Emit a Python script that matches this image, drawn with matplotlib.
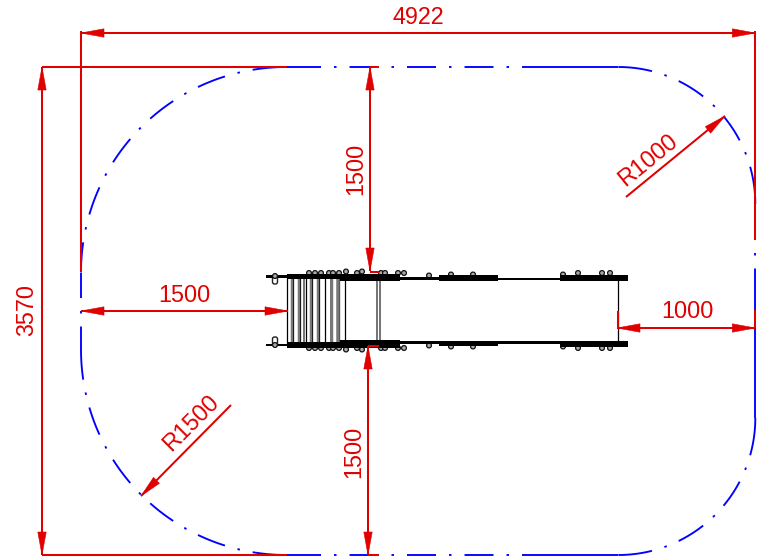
import numpy as np
import matplotlib
matplotlib.use("Agg")
import matplotlib.pyplot as plt
from matplotlib.patches import Polygon, Circle, Rectangle, FancyBboxPatch

plt.rcParams['font.family'] = ['Liberation Sans', 'DejaVu Sans']
plt.rcParams['lines.scale_dashes'] = False

# --- drawing values (mm) and the drawing scale (px per mm) ---
WIDTH_MM, HEIGHT_MM = 4922, 3570
R_LEFT_MM, R_RIGHT_MM = 1500, 1000
SCALE = 0.137
X0, Y_TOP = 81.0, 67.0
X1, Y_BOT = X0 + WIDTH_MM * SCALE, 555.0

labels_h = ["4922", "1500", "1000"]
labels_v = ["3570", "1500", "1500"]
labels_r = ["R1000", "R1500"]

RED = "#e00000"
BLUE = "#0000ff"
BLACK = "#000000"
GREY = "#777777"

# conveyor rail thickness bands: start, end, outer edge, inner edge (upper rail; lower is mirrored)
rail_start = [266, 287, 340, 400, 439, 498, 560]
rail_end = [287, 340, 400, 439, 498, 560, 628]
rail_outer = [275.0, 273.5, 273.5, 277.0, 275.0, 277.5, 274.5]
rail_inner = [277.5, 279.0, 281.0, 280.0, 280.5, 280.0, 280.5]
MIRROR = 621.0

bolt_x = [309, 315, 321, 329, 333, 339, 346, 357, 362, 381, 385, 398, 404, 429, 451, 473, 563, 578, 602, 610]
bolt_y = [273.0, 273.0, 273.0, 273.0, 273.0, 273.0, 271.5, 273.0, 271.5, 273.0, 273.0, 273.0, 273.0, 275.5, 274.5, 274.5, 274.5, 273.0, 273.0, 273.0]
roller_black = [287, 293, 300, 306, 312, 319, 325, 332, 339, 345, 618]
roller_grey = [292, 298.5, 304, 311, 318, 331, 337.5, 376.5, 380]
roller_grey_w = [2.5, 2.5, 2.0, 2.5, 2.5, 3.0, 3.5, 2.0, 2.0]

fig = plt.figure(figsize=(7.58, 5.58), dpi=100)
ax = fig.add_axes([0, 0, 1, 1])
ax.set_xlim(0, 758)
ax.set_ylim(558, 0)
ax.axis("off")

PT = 0.72  # points per pixel at 100 dpi
GAP, DOT, DASH = 13.0, 2.5, 29.0


def pattern(lead, n, tail=400.0):
    seq = [lead, GAP, DOT, GAP]
    for _ in range(n):
        seq += [DASH, GAP, DOT, GAP]
    seq += [tail, GAP]
    return (0, tuple(s * PT for s in seq))


def outline(xs, ys, lead, n):
    ax.plot(xs, ys, color=BLUE, lw=1.35, linestyle=pattern(lead, n), dash_capstyle="butt", zorder=2)


def arc(cx, cy, r, a0, a1):
    t = np.radians(np.linspace(a0, a1, 120))
    return cx + r * np.cos(t), cy - r * np.sin(t)


RL, RR = R_LEFT_MM * SCALE, R_RIGHT_MM * SCALE
# straight sides
outline([X0 + RL, X1 - RR], [Y_TOP, Y_TOP], 34, 3)
outline([X0 + RL, X1 - RR], [Y_BOT, Y_BOT], 34, 3)
outline([X0, X0], [Y_TOP + RL, Y_BOT - RL], 25, 0)
outline([X1, X1], [Y_TOP + RR, Y_BOT - RR], 36, 0)
# corners
outline(*arc(X1 - RR, Y_TOP + RR, RR, 90, 0), 34, 2)
outline(*arc(X1 - RR, Y_BOT - RR, RR, -90, 0), 34, 2)
outline(*arc(X0 + RL, Y_TOP + RL, RL, 90, 180), 34, 4)
outline(*arc(X0 + RL, Y_BOT - RL, RL, 270, 180), 34, 4)

# conveyor
for x in roller_black:
    ax.plot([x, x], [278, 343], color=BLACK, lw=0.9, zorder=3, solid_capstyle="butt")
for x, w in zip(roller_grey, roller_grey_w):
    ax.plot([x, x], [278, 343], color=GREY, lw=w * PT, zorder=3, solid_capstyle="butt")
for a, b, o, i in zip(rail_start, rail_end, rail_outer, rail_inner):
    ax.add_patch(Rectangle((a, o), b - a, i - o, color=BLACK, lw=0, zorder=4))
    ax.add_patch(Rectangle((a, MIRROR - i), b - a, i - o, color=BLACK, lw=0, zorder=4))
for x, y in zip(bolt_x, bolt_y):
    for yy in (y, MIRROR - y):
        ax.add_patch(Circle((x, yy), 2.4, fc="#aaaaaa", ec="#111111", lw=0.9, zorder=3.5))
for yy in (276, MIRROR - 276):
    lo, hi = (yy - 3, yy + 10) if yy < 300 else (yy - 10, yy + 3)
    ax.add_patch(FancyBboxPatch((272.5, lo + 2), 5, hi - lo - 4, boxstyle="round,pad=0,rounding_size=2",
                                fc="white", ec="#222222", lw=1.0, zorder=3.5,
                                mutation_aspect=1))
    ax.add_patch(Circle((275, yy), 2.4, fc="#aaaaaa", ec="#111111", lw=0.9, zorder=5))


# red dimensions
def seg(xs, ys):
    ax.plot(xs, ys, color=RED, lw=1.45, solid_capstyle="butt", zorder=6)


def head(tx, ty, bx, by, half=4.2):
    d = np.array([bx - tx, by - ty], float)
    d /= np.hypot(*d)
    n = np.array([-d[1], d[0]]) * half
    b = np.array([bx, by], float)
    ax.add_patch(Polygon([(tx, ty), b + n, b - n], closed=True, fc=RED, ec=RED, lw=0.4, zorder=7))


def dim(x0, y0, x1, y1, size=23):
    seg([x0, x1], [y0, y1])
    L = np.hypot(x1 - x0, y1 - y0)
    ux, uy = (x1 - x0) / L, (y1 - y0) / L
    head(x0, y0, x0 + ux * size, y0 + uy * size)
    head(x1, y1, x1 - ux * size, y1 - uy * size)


def lab(x, y, s, rot=0):
    ax.text(x, y, s, color=RED, fontsize=16.8, ha="center", va="center",
            rotation=rot, rotation_mode="anchor", zorder=8)


# extension lines
seg([X0, X0], [31, 272])
seg([X1, X1], [31, 240])
seg([42, 287], [Y_TOP, Y_TOP])
seg([42, 287], [Y_BOT, Y_BOT])
seg([370, 379], [Y_TOP, Y_TOP])
seg([368, 379], [Y_BOT, Y_BOT])
seg([370, 379], [272, 272])
seg([368, 379], [346, 346])
seg([618, 618], [311, 328])
seg([X1, X1], [310, 328])

dim(X0, 33, X1, 33)
dim(42, Y_TOP, 42, Y_BOT)
dim(370, Y_TOP, 370, 271)
dim(368, 346, 368, Y_BOT)
dim(X0, 311, 288, 311)
dim(617, 328, X1, 328)

lab(418, 17, labels_h[0])
lab(184, 295, labels_h[1])
lab(687, 312, labels_h[2])
lab(27, 310, labels_v[0], 90)
lab(356, 169, labels_v[1], 90)
lab(354, 452, labels_v[2], 90)

# radius leaders
seg([626, 725], [197, 116])
head(725, 116, 725 - 0.774 * 22, 116 + 0.633 * 22)
lab(648, 160, labels_r[0], 39)
seg([231, 141], [405, 496])
head(141, 496, 141 + 0.703 * 22, 496 - 0.711 * 22)
lab(191, 423, labels_r[1], 45)

fig.savefig("out.png", dpi=100, facecolor="white")
